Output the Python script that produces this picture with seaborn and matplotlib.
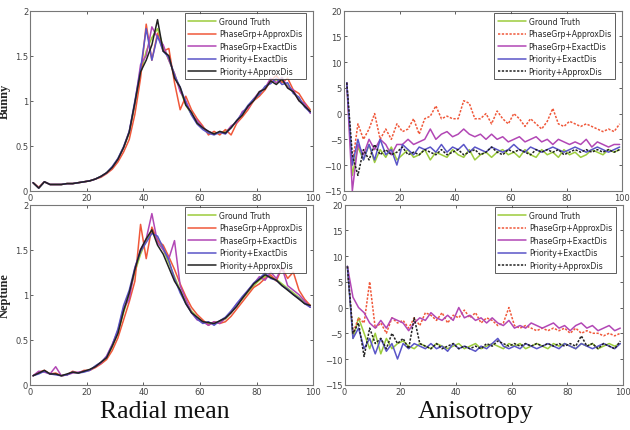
import seaborn as sns
import matplotlib.pyplot as plt

# shared x positions (every other radius bin)
x = list(range(1, 100, 2))

labels = ["Ground Truth", "PhaseGrp+ApproxDis", "PhaseGrp+ExactDis",
          "Priority+ExactDis", "Priority+ApproxDis"]
colors = ["#9ccc3c", "#f0583a", "#b247b5", "#5a55c8", "#222222"]

# Bunny - radial mean
gt_b = [0.09,0.03,0.10,0.07,0.07,0.07,0.08,0.08,0.09,0.10, 0.11,0.13,0.16,0.20,0.26,0.35,0.48,0.64,0.95,1.30,
        1.55,1.70,1.80,1.60,1.45,1.30,1.12,0.95,0.85,0.76, 0.70,0.65,0.64,0.64,0.66,0.70,0.77,0.85,0.93,1.01,
        1.08,1.15,1.20,1.23,1.22,1.17,1.10,1.02,0.95,0.88]
red_b = [0.09,0.04,0.10,0.07,0.07,0.07,0.08,0.08,0.09,0.10, 0.11,0.13,0.15,0.19,0.24,0.32,0.43,0.57,0.85,1.25,
         1.85,1.45,1.75,1.55,1.58,1.20,0.90,1.05,0.90,0.80, 0.72,0.62,0.66,0.62,0.68,0.62,0.75,0.82,0.90,1.00,
         1.05,1.12,1.22,1.28,1.20,1.25,1.12,1.08,0.98,0.90]
mag_b = [0.09,0.03,0.10,0.07,0.07,0.07,0.08,0.08,0.09,0.10, 0.11,0.13,0.16,0.20,0.26,0.35,0.48,0.66,0.97,1.40,
         1.50,1.82,1.70,1.62,1.45,1.30,1.10,1.00,0.85,0.78, 0.70,0.66,0.63,0.65,0.64,0.72,0.76,0.88,0.92,1.02,
         1.10,1.14,1.25,1.20,1.26,1.15,1.12,1.00,0.97,0.86]
blue_b = [0.09,0.03,0.10,0.07,0.07,0.07,0.08,0.08,0.09,0.10, 0.11,0.13,0.16,0.20,0.27,0.36,0.49,0.66,1.00,1.35,
          1.80,1.45,1.72,1.55,1.48,1.28,1.15,0.98,0.84,0.74, 0.68,0.64,0.62,0.65,0.63,0.70,0.78,0.86,0.95,1.02,
          1.07,1.16,1.19,1.25,1.18,1.20,1.08,1.04,0.93,0.87]
blk_b = [0.09,0.03,0.10,0.07,0.07,0.07,0.08,0.08,0.09,0.10, 0.11,0.13,0.16,0.20,0.26,0.35,0.48,0.65,0.98,1.32,
         1.45,1.62,1.90,1.55,1.50,1.25,1.15,0.95,0.87,0.75, 0.70,0.66,0.63,0.66,0.64,0.70,0.78,0.84,0.94,1.00,
         1.10,1.13,1.22,1.18,1.24,1.14,1.10,1.00,0.94,0.88]

# Neptune - radial mean
gt_n = [0.10,0.13,0.15,0.12,0.12,0.10,0.11,0.14,0.13,0.15, 0.16,0.20,0.24,0.30,0.42,0.58,0.80,1.00,1.25,1.45,
        1.60,1.70,1.62,1.50,1.35,1.20,1.05,0.92,0.82,0.75, 0.70,0.68,0.68,0.70,0.73,0.80,0.88,0.95,1.03,1.10,
        1.16,1.20,1.20,1.17,1.12,1.07,1.02,0.97,0.92,0.88]
red_n = [0.10,0.14,0.16,0.12,0.13,0.10,0.11,0.15,0.13,0.16, 0.16,0.19,0.23,0.28,0.38,0.52,0.72,0.92,1.15,1.78,
         1.40,1.75,1.60,1.55,1.42,1.28,1.12,0.98,0.86,0.78, 0.72,0.66,0.70,0.68,0.70,0.76,0.84,0.92,1.00,1.08,
         1.12,1.18,1.22,1.15,1.30,1.18,1.25,1.05,0.95,0.88]
mag_n = [0.10,0.15,0.14,0.12,0.20,0.10,0.11,0.13,0.14,0.15, 0.16,0.20,0.24,0.32,0.45,0.60,0.85,0.95,1.30,1.50,
         1.62,1.90,1.58,1.50,1.40,1.60,1.10,0.95,0.80,0.72, 0.70,0.66,0.70,0.68,0.74,0.80,0.90,0.96,1.05,1.12,
         1.20,1.16,1.25,1.18,1.30,1.10,1.05,1.00,0.93,0.86]
blue_n = [0.10,0.12,0.15,0.12,0.11,0.10,0.11,0.14,0.13,0.14, 0.16,0.21,0.25,0.31,0.44,0.62,0.88,1.05,1.30,1.48,
          1.58,1.68,1.65,1.52,1.38,1.18,1.02,0.90,0.80,0.73, 0.68,0.70,0.66,0.71,0.75,0.82,0.90,0.98,1.05,1.13,
          1.18,1.24,1.18,1.16,1.10,1.06,1.00,0.96,0.90,0.86]
blk_n = [0.10,0.13,0.16,0.12,0.12,0.10,0.12,0.14,0.13,0.15, 0.17,0.20,0.25,0.30,0.43,0.57,0.82,1.02,1.28,1.50,
         1.62,1.72,1.55,1.45,1.30,1.15,1.05,0.90,0.80,0.75, 0.70,0.69,0.68,0.71,0.74,0.80,0.87,0.96,1.04,1.12,
         1.17,1.22,1.19,1.16,1.10,1.05,1.00,0.95,0.90,0.88]

# Bunny - anisotropy
gt_ab = [6.0,-12.0,-6.5,-9.0,-6.0,-9.5,-7.0,-8.5,-6.5,-9.0, -8.0,-7.0,-8.5,-8.0,-7.0,-9.0,-7.5,-8.0,-8.5,-7.0,
         -8.0,-8.5,-7.0,-9.0,-8.0,-7.5,-8.5,-7.5,-7.0,-8.0, -7.5,-8.5,-7.0,-8.0,-8.5,-7.0,-8.0,-7.5,-8.5,-7.0,
         -8.0,-7.5,-8.5,-8.0,-7.0,-7.5,-8.0,-7.0,-7.5,-7.0]
red_ab = [6.0,-10.0,-2.0,-5.0,-3.0,0.0,-5.0,-3.0,-5.0,-2.0, -3.5,-3.0,-1.0,-4.0,-1.0,-0.5,1.5,-1.0,-0.5,-1.0,
          -1.0,2.5,2.0,-1.0,-1.0,0.0,-2.0,0.5,-1.0,-2.0, 0.0,-1.0,-2.5,-1.0,-2.0,-3.0,-1.5,1.0,-2.0,-2.5,
          -1.5,-2.0,-2.5,-2.0,-2.5,-3.0,-3.5,-3.0,-3.5,-2.0]
mag_ab = [6.0,-15.0,-6.0,-8.0,-5.0,-7.0,-5.0,-6.0,-8.0,-6.0, -6.0,-5.0,-6.0,-5.5,-5.0,-3.0,-5.0,-4.0,-3.5,-4.5,
          -4.0,-3.0,-4.0,-4.5,-4.0,-5.0,-4.0,-5.0,-4.5,-5.5, -5.0,-4.5,-5.5,-5.0,-4.5,-5.5,-5.0,-6.0,-5.0,-5.5,
          -6.0,-5.5,-6.0,-5.0,-6.5,-5.5,-6.0,-6.5,-6.0,-6.0]
blue_ab = [6.0,-10.0,-5.0,-9.0,-6.0,-9.0,-5.0,-8.0,-7.0,-10.0, -6.0,-7.0,-8.0,-6.5,-7.0,-6.5,-7.5,-6.0,-7.5,-6.5,
           -7.0,-6.0,-7.5,-6.5,-7.0,-7.5,-6.5,-7.0,-7.5,-7.0, -6.0,-7.0,-7.5,-6.5,-7.0,-7.5,-7.0,-6.5,-7.0,-7.5,
           -7.0,-6.5,-7.0,-7.5,-7.0,-6.5,-7.0,-7.5,-7.0,-6.5]
blk_ab = [6.0,-8.0,-12.0,-7.0,-9.0,-6.0,-8.0,-7.0,-8.0,-7.5, -6.5,-8.0,-7.5,-8.0,-7.0,-7.5,-8.0,-7.0,-8.0,-7.5,
          -7.0,-8.0,-7.5,-7.0,-8.0,-7.5,-6.5,-7.5,-8.0,-7.0, -7.5,-7.0,-7.5,-8.0,-7.0,-7.5,-7.0,-7.5,-7.0,-8.0,
          -7.5,-7.0,-7.5,-7.0,-7.5,-7.0,-7.5,-7.0,-7.5,-7.0]

# Neptune - anisotropy
gt_an = [8.0,-6.0,-2.0,-5.0,-8.0,-5.0,-9.0,-6.0,-8.0,-7.0, -6.5,-7.5,-8.0,-7.0,-7.5,-8.0,-7.0,-7.5,-8.0,-7.5,
         -7.0,-8.0,-7.5,-7.0,-8.0,-7.5,-7.0,-7.5,-8.0,-7.0, -7.5,-7.0,-8.0,-7.5,-7.0,-7.5,-8.0,-7.0,-7.5,-7.0,
         -7.5,-8.0,-7.0,-7.5,-7.0,-8.0,-7.5,-7.0,-7.5,-7.0]
red_an = [8.0,-5.0,-2.0,-3.0,5.0,-4.0,-3.0,-5.0,-2.0,-3.0, -2.5,-4.0,-2.0,-3.5,-1.0,-1.5,-2.5,-1.0,-3.0,-1.5,
          -2.0,-0.5,-2.0,-1.0,-3.0,-2.0,-2.5,-3.5,-3.0,0.0, -3.5,-4.0,-3.5,-4.0,-4.5,-4.0,-4.5,-4.0,-4.5,-4.0,
          -5.0,-4.0,-5.0,-4.5,-5.0,-5.0,-5.5,-5.0,-5.5,-5.0]
mag_an = [8.0,2.0,0.0,-1.0,-3.0,-4.0,-2.5,-4.0,-2.0,-2.5, -3.0,-4.5,-3.0,-2.0,-2.5,-1.0,-2.0,-2.5,-1.5,-2.5,
          0.0,-2.0,-1.5,-2.5,-2.0,-3.0,-2.0,-3.0,-3.5,-2.5, -4.0,-3.5,-4.0,-3.0,-3.5,-4.0,-3.5,-3.0,-4.0,-3.5,
          -4.5,-3.5,-3.0,-4.0,-3.5,-4.5,-4.0,-3.5,-4.5,-4.0]
blue_an = [8.0,-6.0,-4.0,-8.0,-6.0,-9.0,-6.0,-8.5,-7.0,-10.0, -7.0,-8.0,-7.0,-7.5,-8.0,-7.0,-8.0,-7.5,-8.5,-7.0,
           -8.0,-7.5,-8.0,-8.5,-7.5,-8.0,-7.0,-6.0,-7.5,-8.0, -7.5,-8.0,-7.0,-7.5,-8.0,-7.5,-7.0,-7.5,-8.0,-7.0,
           -7.5,-8.0,-7.0,-7.5,-8.0,-7.5,-7.0,-7.5,-8.0,-7.0]
blk_an = [8.0,-5.0,-3.0,-9.5,-4.0,-7.0,-6.0,-8.0,-5.0,-7.0, -6.0,-8.0,-2.0,-7.0,-7.5,-8.0,-7.0,-8.0,-7.5,-7.0,
          -8.0,-7.5,-8.0,-7.5,-8.0,-7.0,-7.5,-6.5,-7.0,-7.5, -7.0,-7.5,-7.0,-7.5,-7.0,-7.5,-7.0,-7.5,-7.0,-7.5,
          -7.0,-7.5,-5.5,-7.5,-7.0,-8.0,-7.0,-7.5,-8.0,-6.5]

sns.set_theme(style="white")

fig = plt.figure(figsize=(6.3, 4.31), dpi=100)
w, h = 0.449, 0.418
wr = 0.442
ax_tl = fig.add_axes([0.048, 0.555, w, h])
ax_tr = fig.add_axes([0.546, 0.555, wr, h])
ax_bl = fig.add_axes([0.048, 0.105, w, h])
ax_br = fig.add_axes([0.547, 0.105, wr, h])

panels = [
    (ax_tl, [gt_b, red_b, mag_b, blue_b, blk_b], False),
    (ax_tr, [gt_ab, red_ab, mag_ab, blue_ab, blk_ab], True),
    (ax_bl, [gt_n, red_n, mag_n, blue_n, blk_n], False),
    (ax_br, [gt_an, red_an, mag_an, blue_an, blk_an], True),
]

for ax, series, aniso in panels:
    for i, ys in enumerate(series):
        ls = "-"
        if aniso and i in (1, 4):
            ls = (0, (1.5, 1))
        sns.lineplot(x=x, y=ys, ax=ax, color=colors[i], label=labels[i],
                     linewidth=1.1, linestyle=ls)
    ax.set_xlim(0, 100)
    ax.set_xticks([0, 20, 40, 60, 80, 100])
    if aniso:
        ax.set_ylim(-15, 20)
        ax.set_yticks([-15, -10, -5, 0, 5, 10, 15, 20])
    else:
        ax.set_ylim(0, 2)
        ax.set_yticks([0, 0.5, 1, 1.5, 2])
        ax.set_yticklabels(["0", "0.5", "1", "1.5", "2"])
    ax.tick_params(direction="in", length=2.5, width=0.6, labelsize=6,
                   colors="#444444", pad=1.5, top=True, right=True,
                   bottom=True, left=True)
    for sp in ax.spines.values():
        sp.set_color("#777777")
        sp.set_linewidth(0.8)
    leg = ax.legend(loc="upper right", bbox_to_anchor=(0.975, 0.985),
                    fontsize=5.6, frameon=True, fancybox=False,
                    borderpad=0.45, labelspacing=0.45, handlelength=3.6,
                    handletextpad=0.4, borderaxespad=0.0)
    leg.get_frame().set_edgecolor("#333333")
    leg.get_frame().set_linewidth(0.7)

for ax, name in [(ax_tl, "Bunny"), (ax_bl, "Neptune")]:
    ax.set_ylabel(name, fontsize=9, fontweight="bold", family="Liberation Serif")
    ax.yaxis.set_label_coords(-0.068, 0.5)

fig.text(0.262, 0.045, "Radial mean", ha="center", va="center", fontsize=18.5,
         family="Liberation Serif", color="#111111")
fig.text(0.755, 0.045, "Anisotropy", ha="center", va="center", fontsize=18.5,
         family="Liberation Serif", color="#111111")

fig.savefig("out.png", dpi=100)
